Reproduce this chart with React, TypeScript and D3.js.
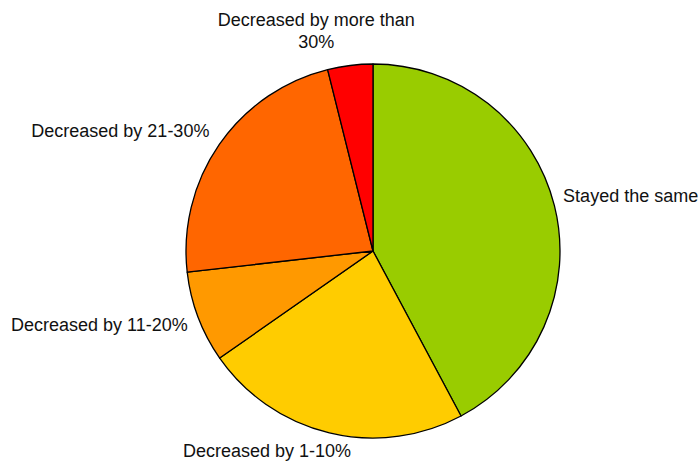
import React from "react";
import * as d3 from "d3";

// Share of respondents per change category (percent)
const categories = [
  "Stayed the same",
  "Decreased by 1-10%",
  "Decreased by 11-20%",
  "Decreased by 21-30%",
  "Decreased by more than 30%",
];
const values = [42.2, 23.1, 7.9, 22.9, 3.9];
const colors = ["#99CC00", "#FFCC00", "#FF9900", "#FF6600", "#FF0000"];

// Label lines (wrapped) and small placement nudges from the outside anchor point
const labelLines = [
  ["Stayed the same"],
  ["Decreased by 1-10%"],
  ["Decreased by 11-20%"],
  ["Decreased by 21-30%"],
  ["Decreased by more than", "30%"],
];
const labelNudge: [number, number][] = [
  [-1, -1],
  [-60, 14],
  [-1, 10.5],
  [-1.7, -1.8],
  [-32.6, -29.6],
];

const W = 699;
const H = 463;
const cx = 373;
const cy = 251;
const radius = 187;
const labelRadius = 197;
const lineHeight = 22;

export default function App() {
  const pie = d3
    .pie<number>()
    .sort(null)
    .value((d) => d)
    .startAngle(0)
    .endAngle(2 * Math.PI);
  const arcs = pie(values);
  const arcGen = d3.arc<d3.PieArcDatum<number>>().innerRadius(0).outerRadius(radius);

  return (
    <svg
      width={W}
      height={H}
      style={{ position: "absolute", left: 0, top: 0, background: "#fff" }}
      fontFamily="'Liberation Sans', Arial, sans-serif"
      fontSize={18}
    >
      <g transform={`translate(${cx},${cy})`}>
        {arcs.map((a, i) => (
          <path
            key={categories[i]}
            d={arcGen(a) || ""}
            fill={colors[i]}
            stroke="#000"
            strokeWidth={1.3}
            strokeLinejoin="round"
          />
        ))}
      </g>
      {arcs.map((a, i) => {
        const mid = (a.startAngle + a.endAngle) / 2;
        const s = Math.sin(mid);
        const c = Math.cos(mid);
        const ax = cx + labelRadius * s + labelNudge[i][0];
        const ay = cy - labelRadius * c + labelNudge[i][1];
        const anchor = Math.abs(s) < 0.3 ? "middle" : s > 0 ? "start" : "end";
        return (
          <text key={categories[i]} x={ax} y={ay} textAnchor={anchor} fill="#111">
            {labelLines[i].map((ln, j) => (
              <tspan key={j} x={ax} dy={j === 0 ? 0 : lineHeight}>
                {ln}
              </tspan>
            ))}
          </text>
        );
      })}
    </svg>
  );
}
